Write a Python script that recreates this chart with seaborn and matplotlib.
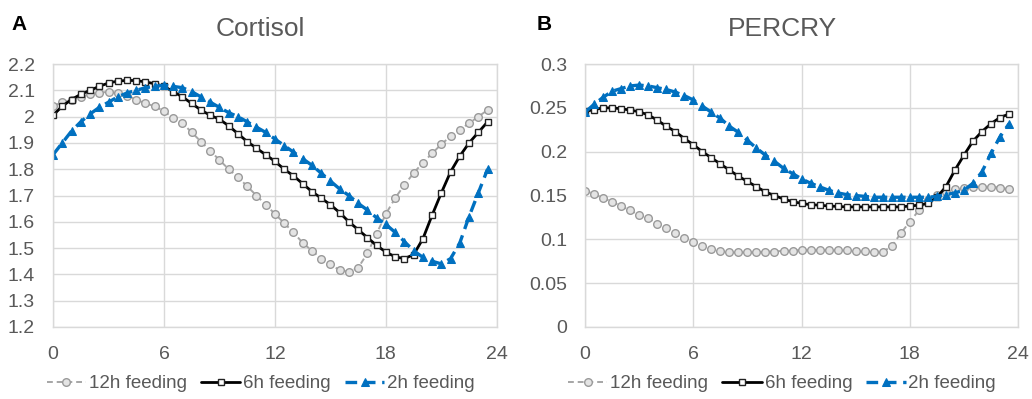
import numpy as np
import pandas as pd
import seaborn as sns
import matplotlib.pyplot as plt

HOURS = np.arange(0, 24, 0.5)
SERIES = ['12h feeding', '6h feeding', '2h feeding']

CORTISOL_12H = [2.04, 2.055, 2.065, 2.075, 2.085, 2.09, 2.095, 2.09, 2.08, 2.065, 2.05, 2.04,
                2.02, 1.995, 1.975, 1.94, 1.905, 1.87, 1.835, 1.80, 1.77, 1.735, 1.70, 1.665,
                1.63, 1.595, 1.56, 1.52, 1.49, 1.46, 1.44, 1.415, 1.41, 1.425, 1.48, 1.555,
                1.63, 1.69, 1.74, 1.785, 1.825, 1.86, 1.895, 1.925, 1.95, 1.975, 2.0, 2.025]
CORTISOL_6H = [2.005, 2.04, 2.065, 2.085, 2.10, 2.115, 2.128, 2.135, 2.138, 2.137, 2.132, 2.125,
               2.115, 2.095, 2.075, 2.05, 2.025, 2.005, 1.99, 1.965, 1.935, 1.905, 1.88, 1.855,
               1.83, 1.80, 1.775, 1.745, 1.715, 1.69, 1.665, 1.635, 1.60, 1.57, 1.54, 1.51,
               1.485, 1.467, 1.46, 1.475, 1.535, 1.625, 1.71, 1.79, 1.85, 1.90, 1.94, 1.98]
CORTISOL_2H = [1.855, 1.90, 1.945, 1.98, 2.01, 2.035, 2.055, 2.075, 2.09, 2.10, 2.11, 2.115,
               2.12, 2.115, 2.11, 2.095, 2.075, 2.055, 2.035, 2.015, 2.0, 1.98, 1.96, 1.94,
               1.915, 1.89, 1.865, 1.84, 1.815, 1.785, 1.755, 1.725, 1.70, 1.67, 1.645, 1.615,
               1.59, 1.56, 1.525, 1.49, 1.465, 1.45, 1.44, 1.46, 1.52, 1.62, 1.71, 1.80]

PERCRY_12H = [0.155, 0.152, 0.147, 0.143, 0.138, 0.133, 0.128, 0.124, 0.118, 0.113, 0.107, 0.102,
              0.097, 0.092, 0.089, 0.087, 0.086, 0.085, 0.085, 0.085, 0.086, 0.086, 0.087, 0.087,
              0.088, 0.088, 0.088, 0.088, 0.088, 0.088, 0.087, 0.087, 0.086, 0.086, 0.092, 0.107,
              0.12, 0.133, 0.145, 0.151, 0.154, 0.157, 0.158, 0.160, 0.160, 0.160, 0.159, 0.157]
PERCRY_6H = [0.246, 0.248, 0.250, 0.250, 0.249, 0.2475, 0.2455, 0.242, 0.236, 0.229, 0.223, 0.215,
             0.208, 0.200, 0.193, 0.186, 0.179, 0.172, 0.166, 0.160, 0.154, 0.150, 0.146, 0.143,
             0.141, 0.1395, 0.139, 0.138, 0.1375, 0.137, 0.137, 0.137, 0.137, 0.137, 0.137, 0.137,
             0.138, 0.139, 0.141, 0.148, 0.160, 0.179, 0.196, 0.212, 0.223, 0.232, 0.239, 0.243]
PERCRY_2H = [0.245, 0.254, 0.262, 0.269, 0.272, 0.275, 0.276, 0.275, 0.273, 0.271, 0.268, 0.264,
             0.259, 0.252, 0.245, 0.238, 0.229, 0.222, 0.213, 0.204, 0.196, 0.189, 0.181, 0.175,
             0.169, 0.164, 0.160, 0.156, 0.153, 0.151, 0.150, 0.149, 0.148, 0.148, 0.148, 0.148,
             0.148, 0.148, 0.148, 0.149, 0.151, 0.153, 0.156, 0.164, 0.177, 0.198, 0.217, 0.232]

X_TICKS = [0, 6, 12, 18, 24]
CORTISOL_TICKS = [1.2, 1.3, 1.4, 1.5, 1.6, 1.7, 1.8, 1.9, 2.0, 2.1, 2.2]
CORTISOL_LABELS = ['1.2', '1.3', '1.4', '1.5', '1.6', '1.7', '1.8', '1.9', '2', '2.1', '2.2']
PERCRY_TICKS = [0, 0.05, 0.1, 0.15, 0.2, 0.25, 0.3]
PERCRY_LABELS = ['0', '0.05', '0.1', '0.15', '0.2', '0.25', '0.3']

TEXT_GREY = '#595959'
GRID_GREY = '#d9d9d9'

STYLES = {
    '12h feeding': dict(color='#a6a6a6', marker='o', markersize=5.5, markerfacecolor='#e4e4e4',
                        markeredgecolor='#9a9a9a', markeredgewidth=1, linewidth=1.4,
                        linestyle=(0, (3, 2))),
    '6h feeding': dict(color='black', marker='s', markersize=5, markerfacecolor='white',
                       markeredgecolor='#222222', markeredgewidth=1, linewidth=2,
                       linestyle='-'),
    '2h feeding': dict(color='#0070c0', marker='^', markersize=6, markerfacecolor='#0070c0',
                       markeredgecolor='#0070c0', linewidth=2.4, linestyle=(0, (3.5, 2))),
}


def build_frame(values):
    return pd.DataFrame({'hour': HOURS, **dict(zip(SERIES, values))})


def draw_panel(ax, df, title, ticks, labels, ylim, title_x):
    for name in SERIES:
        sns.lineplot(data=df, x='hour', y=name, ax=ax, label=name, **STYLES[name])

    ax.set_xlim(0, 24)
    ax.set_ylim(*ylim)
    ax.set_xticks(X_TICKS)
    ax.set_yticks(ticks)
    ax.set_yticklabels(labels)
    ax.set_xlabel('')
    ax.set_ylabel('')
    ax.tick_params(axis='x', length=0, pad=14, labelsize=14, labelcolor=TEXT_GREY)
    ax.tick_params(axis='y', length=0, pad=13, labelsize=14, labelcolor=TEXT_GREY)
    ax.grid(True, color=GRID_GREY, linewidth=1)
    for spine in ax.spines.values():
        spine.set_color(GRID_GREY)
        spine.set_linewidth(1)

    ax.set_title(title, x=title_x, pad=20, fontsize=19, color=TEXT_GREY)
    ax.legend(loc='center', bbox_to_anchor=(title_x, -0.215), ncol=3, frameon=False,
              fontsize=13.5, handlelength=2.1, handletextpad=0.15, columnspacing=0.75,
              labelcolor=TEXT_GREY)


sns.set_theme(style='white')
plt.rcParams['font.family'] = ['Liberation Sans', 'DejaVu Sans']

fig = plt.figure(figsize=(10.32, 3.99), dpi=100)
ax_a = fig.add_axes([0.0514, 0.1805, 0.430, 0.659])
ax_b = fig.add_axes([0.5669, 0.1805, 0.4196, 0.659])

draw_panel(ax_a, build_frame([CORTISOL_12H, CORTISOL_6H, CORTISOL_2H]), 'Cortisol',
           CORTISOL_TICKS, CORTISOL_LABELS, (1.2, 2.2), 0.468)
draw_panel(ax_b, build_frame([PERCRY_12H, PERCRY_6H, PERCRY_2H]), 'PERCRY',
           PERCRY_TICKS, PERCRY_LABELS, (0, 0.3), 0.455)

fig.text(0.011, 0.925, 'A', fontsize=15, fontweight='bold', color='black', va='baseline')
fig.text(0.520, 0.925, 'B', fontsize=15, fontweight='bold', color='black', va='baseline')

fig.savefig('out.png', dpi=100)
